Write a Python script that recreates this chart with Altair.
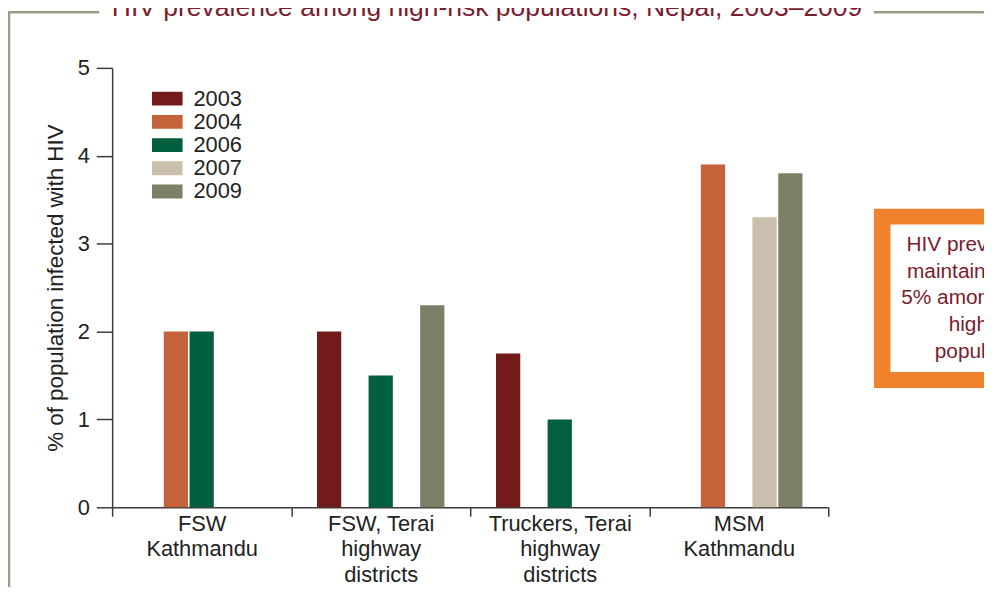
import altair as alt
import pandas as pd

# ---------------- data ----------------
categories = [
    "FSW|Kathmandu",
    "FSW, Terai|highway|districts",
    "Truckers, Terai|highway|districts",
    "MSM|Kathmandu",
]
years = ["2003", "2004", "2006", "2007", "2009"]
prev_2003 = [None, 2.0, 1.75, None]
prev_2004 = [2.0, None, None, 3.9]
prev_2006 = [2.0, 1.5, 1.0, None]
prev_2007 = [None, None, None, 3.3]
prev_2009 = [None, 2.3, None, 3.8]
year_colors = ["#731a1b", "#c6623a", "#03603f", "#cabead", "#7e7f67"]
y_ticks = [0, 1, 2, 3, 4, 5]

title_text = "HIV prevalence among high-risk populations, Nepal, 2003\u20132009"
y_title = "% of population infected with HIV"
note_lines = ["HIV prevalence is", "maintained below", "5% among most at", "high-risk", "populations"]

series = dict(zip(years, [prev_2003, prev_2004, prev_2006, prev_2007, prev_2009]))
rows = []
for yr, vals in series.items():
    for cat, v in zip(categories, vals):
        if v is not None:
            rows.append({"group": cat, "year": yr, "value": v})
df = pd.DataFrame(rows)

FONT = "Liberation Sans"
TEXT_RED = "#7b1c2e"
FRAME = "#9d9b87"
ORANGE = "#f0822d"
AXIS = "#3c3c3c"

W, H = 722, 443

bars = alt.Chart(df).mark_bar().encode(
    x=alt.X(
        "group:N",
        sort=categories,
        scale=alt.Scale(domain=categories, paddingInner=0, paddingOuter=0),
        axis=alt.Axis(
            title=None,
            grid=False,
            labelExpr="split(datum.label, '|')",
            labelAngle=0,
            tickBand="extent",
            tickSize=9,
            labelPadding=14,
            labelBaseline="alphabetic",
            labelLineHeight=26,
            labelFontSize=22,
        ),
    ),
    xOffset=alt.XOffset(
        "year:N", sort=years,
        scale=alt.Scale(domain=years, paddingInner=0.06, paddingOuter=1),
    ),
    y=alt.Y(
        "value:Q",
        scale=alt.Scale(domain=[0, 5], nice=False),
        axis=alt.Axis(
            title=y_title,
            grid=False,
            values=y_ticks,
            tickSize=16,
            labelPadding=7,
            labelFontSize=22,
            titleFontSize=22.5,
            titleFontWeight="normal",
            titleX=-50,
            titleY=H / 2,
            titleAlign="center",
            titleBaseline="alphabetic",
        ),
    ),
    color=alt.Color(
        "year:N",
        scale=alt.Scale(domain=years, range=year_colors),
        legend=alt.Legend(
            title=None,
            orient="none",
            legendX=40,
            legendY=20,
            symbolType="M-1,-0.45L1,-0.45L1,0.45L-1,0.45Z",
            symbolSize=961,
            symbolStrokeWidth=0,
            symbolOpacity=1,
            labelFontSize=22,
            labelFont=FONT,
            labelColor="#222222",
            labelOffset=11,
            clipHeight=22,
            rowPadding=1.4,
            padding=0,
        ),
    ),
)

one = pd.DataFrame({"k": [0]})

frame_left_top = alt.Chart(one).mark_rule(color=FRAME, strokeWidth=2.5).encode(
    x=alt.value(-105), x2=alt.value(-13), y=alt.value(-56))
frame_right_top = alt.Chart(one).mark_rule(color=FRAME, strokeWidth=2.5).encode(
    x=alt.value(768), x2=alt.value(900), y=alt.value(-56))
frame_left = alt.Chart(one).mark_rule(color=FRAME, strokeWidth=2.5).encode(
    x=alt.value(-104), y=alt.value(-57), y2=alt.value(540))

title = alt.Chart(pd.DataFrame({"t": [title_text]})).mark_text(
    font=FONT, fontSize=26.7, color=TEXT_RED, align="center", baseline="alphabetic"
).encode(text="t:N", x=alt.value(378), y=alt.value(-52.5))

box_outer = alt.Chart(one).mark_rect(color=ORANGE).encode(
    x=alt.value(768), x2=alt.value(1000), y=alt.value(142), y2=alt.value(322.7))
box_inner = alt.Chart(one).mark_rect(color="white").encode(
    x=alt.value(784.7), x2=alt.value(1000), y=alt.value(158), y2=alt.value(306.7))
box_text = alt.Chart(pd.DataFrame({"note": ["\n".join(note_lines)]})).mark_text(
    font=FONT, fontSize=21, color=TEXT_RED, align="center", baseline="alphabetic",
    lineBreak="\n", lineHeight=27,
).encode(text="note:N", x=alt.value(883), y=alt.value(184.5))

chart = alt.layer(
    box_outer, box_inner, box_text, frame_left_top, frame_right_top, frame_left, title, bars
).properties(
    width=W, height=H,
    autosize="none",
    background="white",
    padding={"left": 105, "top": 58, "right": 157, "bottom": 78},
).configure_view(stroke="transparent").configure_axis(
    labelFont=FONT, titleFont=FONT, labelColor="#222222", titleColor="#222222",
    domainColor=AXIS, tickColor=AXIS, domainWidth=1.5, tickWidth=1.5, grid=False,
)

chart.save("out.html", embed_options={"renderer": "svg", "actions": False})
